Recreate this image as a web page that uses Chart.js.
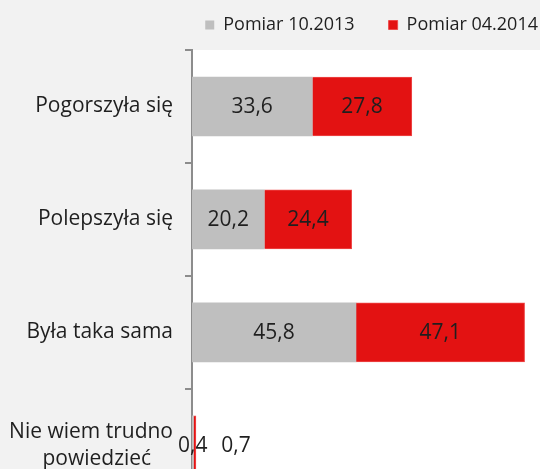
<!DOCTYPE html>
<html>
<head>
<meta charset="utf-8">
<script src="https://cdn.jsdelivr.net/npm/chart.js@4"></script>
<style>
  html, body { margin:0; padding:0; background:#f2f2f2; overflow:hidden; }
  #wrap { width:540px; height:527px; position:relative; }
</style>
</head>
<body>
<div id="wrap"><canvas id="chart"></canvas></div>
<script>
var categories = ['Pogorszyła się', 'Polepszyła się', 'Była taka sama', ['Nie wiem trudno', 'powiedzieć    ']];
var seriesNames = ['Pomiar 10.2013', 'Pomiar 04.2014'];
var pomiar2013 = [33.6, 20.2, 45.8, 0.4];
var pomiar2014 = [27.8, 24.4, 47.1, 0.7];

var FONT = '"Open Sans", "DejaVu Sans", sans-serif';

// white plot area on gray page
var plotBg = {
  id: 'plotBg',
  beforeDraw: function(chart){
    var a = chart.chartArea, c = chart.ctx;
    c.save();
    c.fillStyle = '#ffffff';
    c.fillRect(a.left, a.top, a.right - a.left, a.bottom - a.top);
    c.restore();
  }
};

// fixed legend height, legend pushed to right edge
var legendFit = {
  id: 'legendFit',
  beforeInit: function(chart){
    var orig = chart.legend.fit;
    chart.legend.fit = function(){
      orig.call(chart.legend);
      this.height = 68;
    };
  },
  afterLayout: function(chart){
    chart.legend.right += 32;
  }
};

// value labels, comma decimals
var valueLabels = {
  id: 'valueLabels',
  afterDatasetsDraw: function(chart){
    var c = chart.ctx;
    c.save();
    c.font = '21px ' + FONT;
    c.fillStyle = '#1f1f1f';
    c.textAlign = 'center';
    c.textBaseline = 'middle';
    chart.data.datasets.forEach(function(ds, di){
      var meta = chart.getDatasetMeta(di);
      meta.data.forEach(function(bar, i){
        var v = ds.data[i];
        var txt = v.toFixed(1).replace('.', ',');
        var x = (bar.x + bar.base) / 2;
        if (v < 2 && di === 1) x = bar.x + 40;
        c.fillText(txt, x, bar.y + 1);
      });
    });
    c.restore();
  }
};

new Chart(document.getElementById('chart'), {
  type: 'bar',
  data: {
    labels: categories,
    datasets: [
      { label: seriesNames[0], data: pomiar2013, backgroundColor: '#bfbfbf', borderWidth: 0 },
      { label: seriesNames[1], data: pomiar2014, backgroundColor: '#e31212', borderColor: '#ee4a4a', borderWidth: 1 }
    ]
  },
  options: {
    indexAxis: 'y',
    responsive: true,
    maintainAspectRatio: false,
    animation: false,
    layout: { padding: { top: -18, left: 0, right: 0, bottom: 9 } },
    datasets: { bar: { barThickness: 59, categoryPercentage: 1 } },
    scales: {
      x: { stacked: true, display: false, min: 0, max: 97.2 },
      y: {
        stacked: true,
        afterFit: function(s){ s.width = 192; },
        grid: { offset: true, drawOnChartArea: false, drawTicks: true, tickLength: 7, color: '#8c8c8c', lineWidth: 2 },
        border: { color: '#8c8c8c', width: 2 },
        ticks: { padding: 12, color: '#1f1f1f', font: { family: FONT, size: 21, lineHeight: 1.25 } }
      }
    },
    plugins: {
      tooltip: { enabled: false },
      legend: {
        position: 'top',
        align: 'end',
        labels: {
          boxWidth: 9, boxHeight: 9, padding: 34,
          color: '#1f1f1f',
          font: { family: FONT, size: 18 }
        }
      }
    }
  },
  plugins: [plotBg, legendFit, valueLabels]
});
</script>
</body>
</html>
